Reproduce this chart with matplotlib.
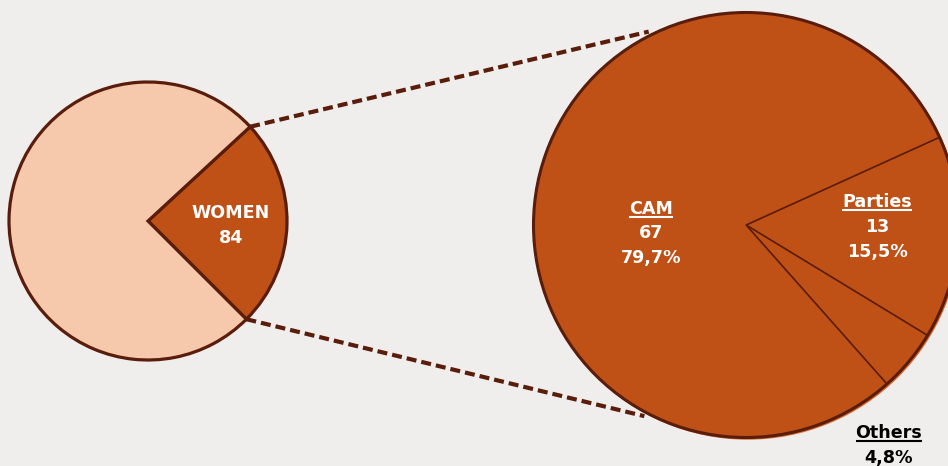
import matplotlib.pyplot as plt
from matplotlib.patches import Circle
import numpy as np

W, H = 948, 466

# data
total_labels = ["WOMEN", "MEN"]
total_values = [84, 261]
women_labels = ["Parties", "Others", "CAM"]
women_values = [13, 4, 67]
women_pct = ["15,5%", "4,8%", "79,7%"]

bg = "#efeeec"
dark = "#bf5016"
light = "#f6c8ac"
edge = "#5a1d0b"

fig = plt.figure(figsize=(W / 100, H / 100), dpi=100)
fig.patch.set_facecolor(bg)
ax = fig.add_axes([0, 0, 1, 1])

# left pie: women vs total
lc, lr = (148, 245), 139
start_l = 42.7
ax.pie(total_values, colors=[dark, light], startangle=start_l, counterclock=False,
       center=lc, radius=lr,
       wedgeprops=dict(edgecolor=edge, linewidth=2.3, joinstyle="miter"))

# right pie: breakdown of women
rc, rr = (746, 241), 212.5
ax.add_patch(Circle((rc[0] + 1.5, rc[1] - 1.5), rr, color="#d9642a", zorder=0))
ax.pie(women_values, colors=[dark] * 3, startangle=24.4, counterclock=False,
       center=rc, radius=rr, wedgeprops=dict(edgecolor=edge, linewidth=1.1))
ax.add_patch(Circle(rc, rr, fill=False, edgecolor=edge, linewidth=2.2, zorder=5))

# data units == pixels
ax.set_xlim(0, W)
ax.set_ylim(0, H)
ax.set_aspect("equal")
ax.axis("off")

# connector lines from women wedge to the big pie
women_span = 360 * total_values[0] / sum(total_values)
for a_left, a_right in [(start_l, 116.7), (start_l - women_span, -118)]:
    p0 = (lc[0] + lr * np.cos(np.radians(a_left)), lc[1] + lr * np.sin(np.radians(a_left)))
    p1 = (rc[0] + (rr + 4) * np.cos(np.radians(a_right)), rc[1] + (rr + 4) * np.sin(np.radians(a_right)))
    ax.plot([p0[0], p1[0]], [p0[1], p1[1]], color=edge, linewidth=3.0,
            linestyle=(0, (2.4, 1.2)), dash_capstyle="butt", zorder=1)

font = dict(family="DejaVu Sans", weight="bold", fontsize=12.6, ha="center", va="baseline")

def label(x, y_img, lines, color="white", underline=False, gap=25):
    texts = []
    for i, s in enumerate(lines):
        t = ax.text(x, H - (y_img + i * gap), s, color=color, zorder=10, **font)
        texts.append(t)
    if underline:
        fig.canvas.draw()
        bb = texts[0].get_window_extent()
        yl = H - y_img - 2.5
        ax.plot([bb.x0, bb.x1], [yl, yl], color=color, linewidth=1.5, zorder=10,
                solid_capstyle="butt")

label(231, 218, [total_labels[0], str(total_values[0])])
label(651, 214, [women_labels[2], str(women_values[2]), women_pct[2]], underline=True, gap=24.5)
label(877, 207, [women_labels[0], str(women_values[0]), women_pct[0]], underline=True)
label(889, 438, [women_labels[1], women_pct[1]], color="black", underline=True)

ax.set_xlim(0, W)
ax.set_ylim(0, H)

fig.savefig("out.png", dpi=100, facecolor=bg)
